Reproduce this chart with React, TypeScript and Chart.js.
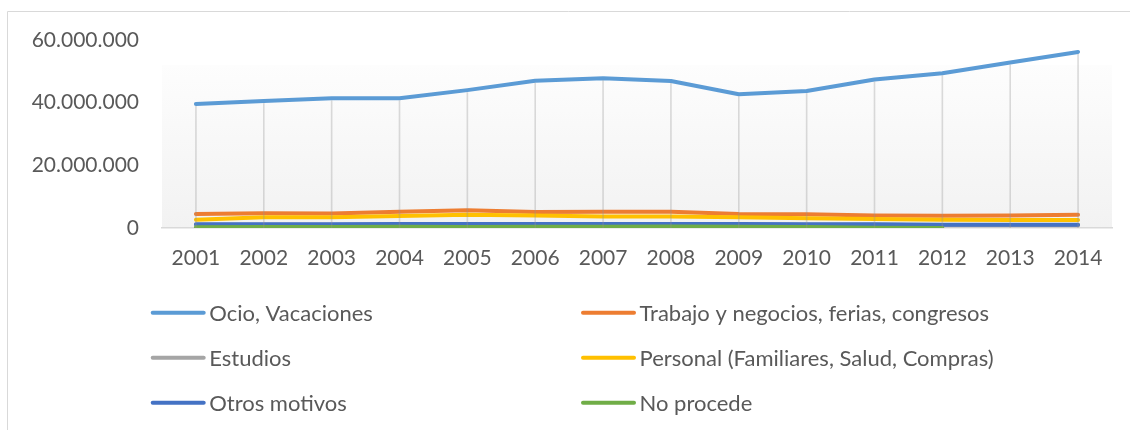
import React, { useEffect, useRef } from "react";
import { Chart, registerables } from "chart.js";

Chart.register(...registerables);

const years = ["2001","2002","2003","2004","2005","2006","2007","2008","2009","2010","2011","2012","2013","2014"];
const ocio = [39600000, 40500000, 41400000, 41400000, 44000000, 47000000, 47800000, 46900000, 42700000, 43700000, 47400000, 49400000, 52800000, 56200000];
const trabajo = [4500000, 4700000, 4600000, 5200000, 5700000, 5100000, 5200000, 5200000, 4500000, 4400000, 4000000, 3900000, 4000000, 4250000];
const estudios = [1000000, 1000000, 1000000, 1100000, 1100000, 1100000, 1100000, 1100000, 1100000, 1000000, 1000000, 900000, 900000, 900000];
const personal = [2650000, 3400000, 3400000, 3850000, 4250000, 4000000, 3700000, 3700000, 3400000, 3100000, 2900000, 2650000, 2550000, 2550000];
const otros = [1200000, 1200000, 1200000, 1250000, 1300000, 1300000, 1300000, 1300000, 1250000, 1200000, 1200000, 1000000, 1000000, 1000000];
const noProcede = [200000, 350000, 350000, 400000, 300000, 400000, 400000, 500000, 400000, 300000, 100000, 0, null, null];

const seriesNames = [
  "Ocio, Vacaciones",
  "Trabajo y negocios, ferias, congresos",
  "Estudios",
  "Personal (Familiares, Salud, Compras)",
  "Otros motivos",
  "No procede",
];
const seriesColors = ["#5B9BD5", "#ED7D31", "#A5A5A5", "#FFC000", "#4472C4", "#70AD47"];
const seriesValues = [ocio, trabajo, estudios, personal, otros, noProcede];

const yMax = 60000000;
const yStep = 20000000;

const FONT = "Lato";
const TEXT = "#595959";

const fmt = (v: number) => String(Math.round(v)).replace(/\B(?=(\d{3})+(?!\d))/g, ".");

const framePlugin = {
  id: "frame",
  beforeDraw(chart: any) {
    const { ctx, chartArea } = chart;
    ctx.save();
    const top = chartArea.top + 25;
    const g = ctx.createLinearGradient(0, top, 0, chartArea.bottom);
    g.addColorStop(0, "#fdfdfd");
    g.addColorStop(1, "#f2f2f2");
    ctx.fillStyle = g;
    ctx.fillRect(chartArea.left, top, chartArea.right - chartArea.left, chartArea.bottom - top);
    ctx.strokeStyle = "#d9d9d9";
    ctx.lineWidth = 1;
    ctx.beginPath();
    ctx.moveTo(7.5, chart.height);
    ctx.lineTo(7.5, 11.5);
    ctx.lineTo(chart.width, 11.5);
    ctx.stroke();
    ctx.restore();
  },
  afterDatasetsDraw(chart: any) {
    const { ctx, chartArea } = chart;
    const xs = chart.scales.x;
    const ys = chart.scales.y;
    ctx.save();
    ctx.strokeStyle = "rgba(150,150,150,0.33)";
    ctx.lineWidth = 1.6;
    chart.data.labels.forEach((_: any, i: number) => {
      let mx = -Infinity;
      chart.data.datasets.forEach((d: any) => {
        const v = d.data[i];
        if (v != null && v > mx) mx = v;
      });
      if (!isFinite(mx)) return;
      const x = xs.getPixelForValue(i);
      const y = ys.getPixelForValue(mx) + 2;
      ctx.beginPath();
      ctx.moveTo(x, y);
      ctx.lineTo(x, chartArea.bottom);
      ctx.stroke();
    });
    ctx.restore();
  },
  afterDraw(chart: any) {
    const { ctx } = chart;
    ctx.save();
    ctx.font = `22px ${FONT}`;
    ctx.textBaseline = "middle";
    ctx.textAlign = "left";
    const colX = [150.7, 581];
    const rowY0 = 312.7;
    const rowStep = 45;
    const lineLen = 55;
    chart.data.datasets.forEach((d: any, i: number) => {
      const cx = colX[i % 2];
      const cy = rowY0 + Math.floor(i / 2) * rowStep;
      ctx.strokeStyle = d.borderColor;
      ctx.lineWidth = 4;
      ctx.lineCap = "round";
      ctx.beginPath();
      ctx.moveTo(cx + 2, cy);
      ctx.lineTo(cx + lineLen - 2, cy);
      ctx.stroke();
      ctx.fillStyle = TEXT;
      ctx.fillText(d.label, cx + lineLen + 3.5, cy + 1);
    });
    ctx.restore();
  },
};

export default function App() {
  const ref = useRef<HTMLCanvasElement | null>(null);
  useEffect(() => {
    if (!ref.current) return;
    const n = seriesNames.length;
    const chart = new Chart(ref.current, {
      type: "line",
      data: {
        labels: years,
        datasets: seriesNames.map((name, i) => ({
          label: name,
          data: seriesValues[i],
          borderColor: seriesColors[i],
          backgroundColor: seriesColors[i],
          borderWidth: 4,
          borderCapStyle: "round",
          borderJoinStyle: "round",
          pointRadius: 0,
          pointHoverRadius: 0,
          tension: 0,
          fill: false,
          spanGaps: false,
          order: n - 1 - i,
        })),
      },
      options: {
        animation: false,
        responsive: false,
        devicePixelRatio: 1,
        layout: { padding: { left: 0, right: 18, top: 40, bottom: 0 } },
        plugins: { legend: { display: false }, tooltip: { enabled: false } },
        scales: {
          x: {
            offset: true,
            grid: { display: true, color: "transparent", drawTicks: false, offset: true },
            border: { display: true, color: "#d9d9d9", width: 1.5 },
            ticks: { color: TEXT, font: { family: FONT, size: 21 }, padding: 18, maxRotation: 0, autoSkip: false },
            afterFit: (s: any) => { s.height = 202; },
          },
          y: {
            min: 0,
            max: yMax,
            grid: { display: false, drawTicks: false },
            border: { display: false },
            ticks: {
              stepSize: yStep,
              color: TEXT,
              font: { family: FONT, size: 21 },
              padding: 23,
              callback: (v: any) => fmt(Number(v)),
            },
            afterFit: (s: any) => { s.width = 162; },
          },
        },
      },
      plugins: [framePlugin],
    } as any);
    return () => chart.destroy();
  }, []);
  return (
    <div style={{ position: "absolute", left: 0, top: 0, width: 1130, height: 430, background: "#fff" }}>
      <canvas ref={ref} width={1130} height={430} style={{ width: 1130, height: 430, display: "block" }} />
    </div>
  );
}
